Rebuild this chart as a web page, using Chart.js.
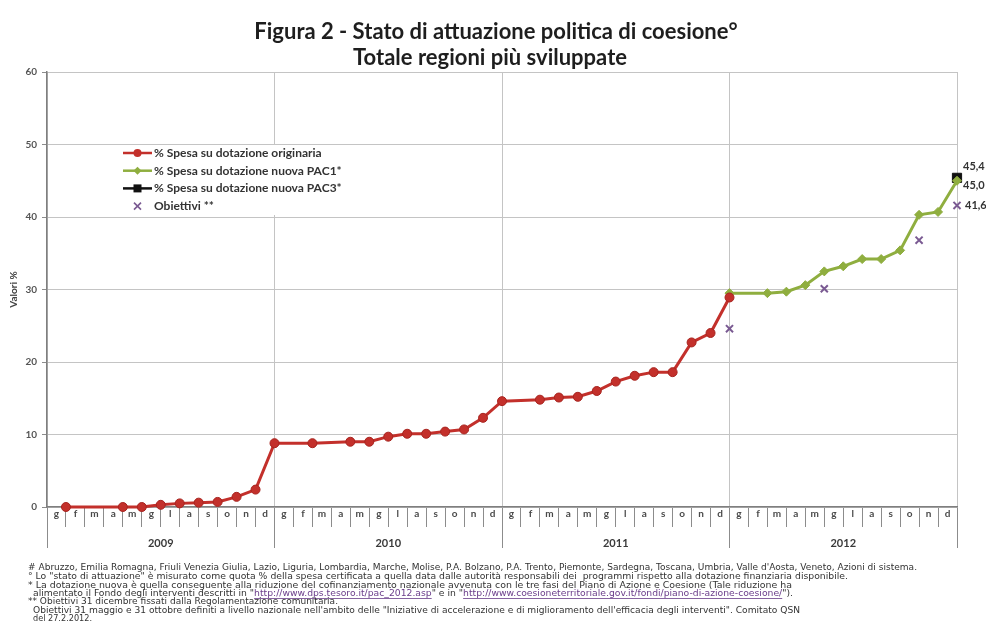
<!DOCTYPE html>
<html lang="it">
<head>
<meta charset="utf-8">
<title>Figura 2 - Stato di attuazione politica di coesione</title>
<script src="https://cdn.jsdelivr.net/npm/chart.js"></script>
<style>
  html, body { margin: 0; padding: 0; background: #fff; }
  #wrap { width: 986px; height: 642px; }
</style>
</head>
<body>
<div id="wrap"><canvas id="grafico" width="986" height="642"></canvas></div>
<script>
// mesi e anni dell'asse orizzontale
const mesi = ['g', 'f', 'm', 'a', 'm', 'g', 'l', 'a', 's', 'o', 'n', 'd'];
const anni = ['2009', '2010', '2011', '2012'];

// valori % a fine mese, da gen 2009 a dic 2012 (null = nessun dato)
const spesaOriginaria = [
  0, null, null, 0, 0, 0.3, 0.5, 0.6, 0.7, 1.4, 2.4, 8.8,
  null, 8.8, null, 9.0, 9.0, 9.7, 10.1, 10.1, 10.4, 10.7, 12.3, 14.6,
  null, 14.8, 15.1, 15.2, 16.0, 17.3, 18.1, 18.6, 18.6, 22.7, 24.0, 28.9,
  null, null, null, null, null, null, null, null, null, null, null, null
];
const spesaPAC1 = [
  null, null, null, null, null, null, null, null, null, null, null, null,
  null, null, null, null, null, null, null, null, null, null, null, null,
  null, null, null, null, null, null, null, null, null, null, null, 29.5,
  null, 29.5, 29.7, 30.6, 32.5, 33.2, 34.2, 34.2, 35.4, 40.3, 40.7, 45.0
];
const spesaPAC3 = [
  null, null, null, null, null, null, null, null, null, null, null, null,
  null, null, null, null, null, null, null, null, null, null, null, null,
  null, null, null, null, null, null, null, null, null, null, null, null,
  null, null, null, null, null, null, null, null, null, null, null, 45.4
];
const obiettivi = [
  null, null, null, null, null, null, null, null, null, null, null, null,
  null, null, null, null, null, null, null, null, null, null, null, null,
  null, null, null, null, null, null, null, null, null, null, null, 24.6,
  null, null, null, null, 30.1, null, null, null, null, 36.8, null, 41.6
];

const etichetteMesi = anni.flatMap(() => mesi);

// il punto di ogni mese cade alla fine della sua cella
const punti = arr => arr.map((v, i) => ({ x: i + 1, y: v }));

const note = [
  [['# Abruzzo, Emilia Romagna, Friuli Venezia Giulia, Lazio, Liguria, Lombardia, Marche, Molise, P.A. Bolzano, P.A. Trento, Piemonte, Sardegna, Toscana, Umbria, Valle d\'Aosta, Veneto, Azioni di sistema.']],
  [['° Lo "stato di attuazione" è misurato come quota % della spesa certificata a quella data dalle autorità responsabili dei  programmi rispetto alla dotazione finanziaria disponibile.']],
  [['* La dotazione nuova è quella conseguente alla riduzione del cofinanziamento nazionale avvenuta con le tre fasi del Piano di Azione e Coesione (Tale riduzione ha']],
  [['alimentato il Fondo degli interventi descritti in "'], ['http://www.dps.tesoro.it/pac_2012.asp', true], ['" e in "'], ['http://www.coesioneterritoriale.gov.it/fondi/piano-di-azione-coesione/', true], ['").']],
  [['** Obiettivi 31 dicembre fissati dalla Regolamentazione comunitaria.']],
  [['Obiettivi 31 maggio e 31 ottobre definiti a livello nazionale nell\'ambito delle "Iniziative di accelerazione e di miglioramento dell\'efficacia degli interventi". Comitato QSN']],
  [['del 27.2.2012.']]
];
// [x iniziale, x finale, y] di ogni riga di nota
const posNote = [[28, 917, 568], [28, 848, 577], [28, 792, 586], [33, 793, 594], [28, 338, 602], [33, 800, 611], [33, 92, 619]];

const ROSSO = '#c3302b', VERDE = '#8fae3f', NERO = '#111111', VIOLA = '#7a5a92';

function marcatore(ctx, tipo, x, y, colore) {
  ctx.save();
  ctx.fillStyle = colore; ctx.strokeStyle = colore;
  if (tipo === 'circle') {
    ctx.beginPath(); ctx.arc(x, y, 4, 0, Math.PI * 2); ctx.fill();
  } else if (tipo === 'diamond') {
    ctx.beginPath(); ctx.moveTo(x, y - 4); ctx.lineTo(x + 4, y); ctx.lineTo(x, y + 4); ctx.lineTo(x - 4, y); ctx.closePath(); ctx.fill();
  } else if (tipo === 'square') {
    ctx.fillRect(x - 4, y - 4, 8, 8);
  } else {
    ctx.lineWidth = 1.6;
    ctx.beginPath(); ctx.moveTo(x - 3.5, y - 3.5); ctx.lineTo(x + 3.5, y + 3.5);
    ctx.moveTo(x + 3.5, y - 3.5); ctx.lineTo(x - 3.5, y + 3.5); ctx.stroke();
  }
  ctx.restore();
}

const decorazioni = {
  id: 'decorazioni',
  beforeDraw(chart) {
    const ctx = chart.ctx;
    ctx.save();
    ctx.fillStyle = '#ffffff';
    ctx.fillRect(0, 0, chart.width, chart.height);
    ctx.restore();
  },
  afterDraw(chart) {
    const ctx = chart.ctx;
    ctx.save();

    // titolo
    ctx.fillStyle = '#1e1e1e';
    ctx.textAlign = 'center';
    ctx.textBaseline = 'middle';
    ctx.font = 'bold 22px Lato';
    ctx.fillText('Figura 2 - Stato di attuazione politica di coesione°', 496, 32, 500);
    ctx.fillText('Totale regioni più sviluppate', 490, 58, 290);

    // legenda
    ctx.fillStyle = '#ffffff';
    ctx.fillRect(118, 145, 240, 70);
    const voci = [
      ['% Spesa su dotazione originaria', ROSSO, 'circle', true],
      ['% Spesa su dotazione nuova PAC1*', VERDE, 'diamond', true],
      ['% Spesa su dotazione nuova PAC3*', NERO, 'square', true],
      ['Obiettivi **', VIOLA, 'x', false]
    ];
    ctx.textAlign = 'left';
    ctx.font = 'bold 12px Lato';
    voci.forEach((v, i) => {
      const y = 153 + i * 17.7;
      if (v[3]) {
        ctx.strokeStyle = v[1]; ctx.lineWidth = 2.5;
        ctx.beginPath(); ctx.moveTo(123, y); ctx.lineTo(152, y); ctx.stroke();
      }
      marcatore(ctx, v[2], 137.5, y, v[1]);
      ctx.fillStyle = '#333333';
      ctx.fillText(v[0], 154, y);
    });

    // etichette dei valori finali
    const fmt = v => v.toFixed(1).replace('.', ',');
    const last = spesaOriginaria.length - 1;
    ctx.font = 'bold 11px Lato';
    ctx.fillStyle = '#333333';
    const p3 = chart.getDatasetMeta(2).data[last];
    ctx.fillText(fmt(spesaPAC3[last]), p3.x + 6, p3.y - 11);
    const p1 = chart.getDatasetMeta(1).data[last];
    ctx.fillText(fmt(spesaPAC1[last]), p1.x + 6, p1.y + 5);
    const po = chart.getDatasetMeta(3).data[last];
    ctx.fillText(fmt(obiettivi[last]), po.x + 8, po.y);

    // note a piè di grafico
    ctx.font = '8.5px "DejaVu Sans"';
    note.forEach((riga, i) => {
      const [x0, x1, y] = posNote[i];
      const w = riga.reduce((s, p) => s + ctx.measureText(p[0]).width, 0);
      ctx.save();
      ctx.translate(x0, y);
      ctx.scale((x1 - x0) / w, 1);
      let cx = 0;
      riga.forEach(p => {
        const tw = ctx.measureText(p[0]).width;
        ctx.fillStyle = p[1] ? '#6a3d8a' : '#333333';
        ctx.fillText(p[0], cx, 0);
        if (p[1]) ctx.fillRect(cx, 4, tw, 0.8);
        cx += tw;
      });
      ctx.restore();
    });

    ctx.restore();
  }
};

const fontAssi = { family: 'Lato', size: 10, weight: 'bold' };

new Chart(document.getElementById('grafico'), {
  type: 'line',
  data: {
    datasets: [
      {
        label: '% Spesa su dotazione originaria',
        data: punti(spesaOriginaria),
        borderColor: ROSSO,
        backgroundColor: ROSSO,
        pointBorderColor: '#a8241f',
        borderWidth: 3,
        pointRadius: 4.5,
        pointBorderWidth: 1,
        spanGaps: true,
        clip: false
      },
      {
        label: '% Spesa su dotazione nuova PAC1*',
        data: punti(spesaPAC1),
        borderColor: VERDE,
        backgroundColor: VERDE,
        pointStyle: 'rectRot',
        borderWidth: 3,
        pointRadius: 4.5,
        pointBorderWidth: 1,
        spanGaps: true,
        clip: false
      },
      {
        label: '% Spesa su dotazione nuova PAC3*',
        data: punti(spesaPAC3),
        borderColor: NERO,
        backgroundColor: NERO,
        pointStyle: 'rect',
        borderWidth: 3,
        pointRadius: 6.5,
        pointBorderWidth: 1,
        clip: false
      },
      {
        label: 'Obiettivi **',
        data: punti(obiettivi),
        showLine: false,
        borderColor: VIOLA,
        backgroundColor: VIOLA,
        pointStyle: 'crossRot',
        pointRadius: 5,
        pointBorderWidth: 2,
        clip: false
      }
    ]
  },
  options: {
    responsive: false,
    animation: false,
    layout: { padding: { top: 72, left: 0, right: 29, bottom: 87 } },
    plugins: {
      legend: { display: false },
      tooltip: { enabled: false },
      title: { display: false }
    },
    scales: {
      x: { type: 'linear', min: 0, max: 48, display: false },
      xm: {
        type: 'category',
        labels: etichetteMesi,
        position: 'bottom',
        weight: 0,
        offset: true,
        grid: { offset: true, drawOnChartArea: false, tickLength: 20, tickColor: '#8c8c8c' },
        border: { color: '#7f7f7f', width: 1.5 },
        ticks: { autoSkip: false, maxRotation: 0, padding: -19, color: '#4a4a4a', font: fontAssi },
        afterFit: s => { s.height = 20; }
      },
      xy: {
        type: 'category',
        labels: anni,
        position: 'bottom',
        weight: 1,
        offset: true,
        grid: { offset: true, drawOnChartArea: true, color: '#c4c4c4', tickLength: 21, tickColor: '#8c8c8c' },
        border: { display: false },
        ticks: { autoSkip: false, maxRotation: 0, padding: -11, color: '#3a3a3a', font: { family: 'Lato', size: 11, weight: 'bold' } },
        afterFit: s => { s.height = 28; }
      },
      y: {
        position: 'left',
        min: 0,
        max: 60,
        ticks: { stepSize: 10, padding: 5, color: '#555555', font: fontAssi },
        grid: { color: '#c4c4c4', tickLength: 5, tickColor: '#8c8c8c' },
        border: { color: '#7f7f7f', width: 1.5 },
        title: {
          display: true,
          text: 'Valori %',
          color: '#444444',
          font: { family: 'Lato', size: 10, weight: 'bold' },
          padding: { top: 8, bottom: 0 }
        },
        afterFit: s => { s.width = 47; }
      }
    }
  },
  plugins: [decorazioni]
});
</script>
</body>
</html>
